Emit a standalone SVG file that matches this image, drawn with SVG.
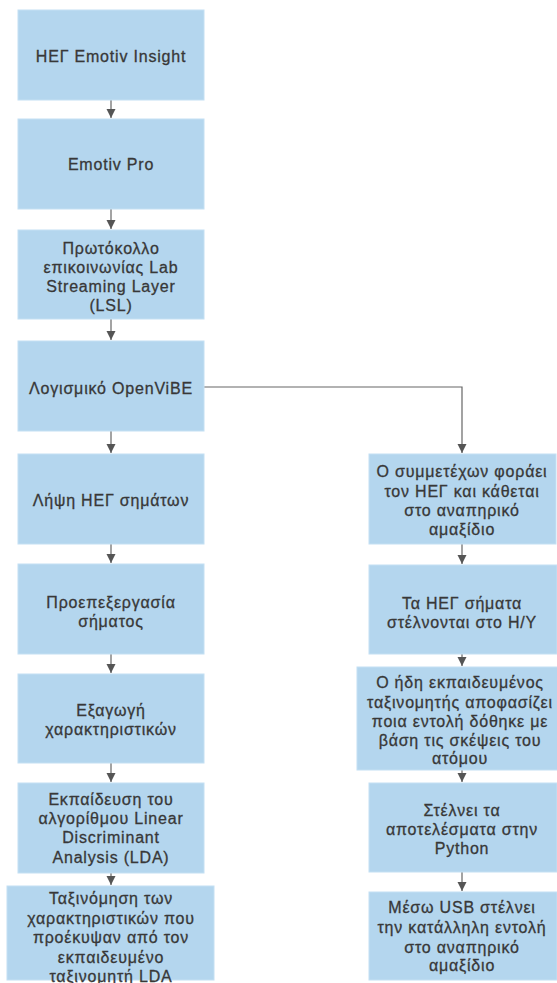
<svg xmlns="http://www.w3.org/2000/svg" width="557" height="983" viewBox="0 0 557 983">
<style>
.b{fill:#b4d6ee;stroke:#c4e0f3;stroke-width:1}
.t{font-family:"Liberation Sans",Arial,sans-serif;font-size:16px;letter-spacing:0.8px;fill:#383838;stroke:#383838;stroke-width:0.3px;text-anchor:middle}
.c{fill:none;stroke:#666;stroke-width:1.2}
</style>
<defs>
<marker id="ah" markerUnits="userSpaceOnUse" markerWidth="10" markerHeight="10" refX="9" refY="5" orient="auto">
<path d="M0,0.5 L9,5 L0,9.5 Z" fill="#555"/>
</marker>
</defs>
<rect width="557" height="983" fill="#fff"/>
<g id="connectors">
<path class="c" d="M111,100 V118" marker-end="url(#ah)"/>
<path class="c" d="M111,209 V229" marker-end="url(#ah)"/>
<path class="c" d="M111,319 V340" marker-end="url(#ah)"/>
<path class="c" d="M111,431 V453" marker-end="url(#ah)"/>
<path class="c" d="M111,544 V563" marker-end="url(#ah)"/>
<path class="c" d="M111,654 V673" marker-end="url(#ah)"/>
<path class="c" d="M111,763 V782" marker-end="url(#ah)"/>
<path class="c" d="M111,873 V885" marker-end="url(#ah)"/>
<path class="c" d="M203,387 H462 V453" marker-end="url(#ah)"/>
<path class="c" d="M462,544 V564" marker-end="url(#ah)"/>
<path class="c" d="M462,654 V666" marker-end="url(#ah)"/>
<path class="c" d="M462,770 V782" marker-end="url(#ah)"/>
<path class="c" d="M462,872 V891" marker-end="url(#ah)"/>
</g>
<g id="n1"><rect class="b" x="18" y="10" width="186" height="90"/><text class="t" x="111" y="62">ΗΕΓ Emotiv Insight</text></g>
<g id="n2"><rect class="b" x="18" y="119" width="186" height="90"/><text class="t" x="111" y="170">Emotiv Pro</text></g>
<g id="n3"><rect class="b" x="18" y="230" width="186" height="89"/><text class="t" x="111" y="254"><tspan x="111">Πρωτόκολλο</tspan><tspan x="111" dy="19">επικοινωνίας Lab</tspan><tspan x="111" dy="19">Streaming Layer</tspan><tspan x="111" dy="18.5">(LSL)</tspan></text></g>
<g id="n4"><rect class="b" x="18" y="341" width="186" height="90"/><text class="t" x="111" y="394">Λογισμικό OpenViBE</text></g>
<g id="n5"><rect class="b" x="18" y="454" width="186" height="90"/><text class="t" x="111" y="506">Λήψη ΗΕΓ σημάτων</text></g>
<g id="n6"><rect class="b" x="18" y="564" width="186" height="90"/><text class="t" x="111" y="608"><tspan x="111">Προεπεξεργασία</tspan><tspan x="111" dy="19">σήματος</tspan></text></g>
<g id="n7"><rect class="b" x="18" y="674" width="186" height="89"/><text class="t" x="111" y="716"><tspan x="111">Εξαγωγή</tspan><tspan x="111" dy="19">χαρακτηριστικών</tspan></text></g>
<g id="n8"><rect class="b" x="18" y="783" width="186" height="90"/><text class="t" x="111" y="805"><tspan x="111">Εκπαίδευση του</tspan><tspan x="111" dy="19">αλγορίθμου Linear</tspan><tspan x="111" dy="19">Discriminant</tspan><tspan x="111" dy="19.5">Analysis (LDA)</tspan></text></g>
<g id="n9"><rect class="b" x="7" y="886" width="207" height="94"/><text class="t" x="111" y="904"><tspan x="111">Ταξινόμηση των</tspan><tspan x="111" dy="19.5">χαρακτηριστικών που</tspan><tspan x="111" dy="19.5">προέκυψαν από τον</tspan><tspan x="111" dy="19.5">εκπαιδευμένο</tspan><tspan x="111" dy="19">ταξινομητή LDA</tspan></text></g>
<g id="r1"><rect class="b" x="369" y="454" width="187" height="90"/><text class="t" x="462" y="477"><tspan x="462">Ο συμμετέχων φοράει</tspan><tspan x="462" dy="19.5">τον ΗΕΓ και κάθεται</tspan><tspan x="462" dy="19">στο αναπηρικό</tspan><tspan x="462" dy="19.5">αμαξίδιο</tspan></text></g>
<g id="r2"><rect class="b" x="369" y="565" width="188" height="89"/><text class="t" x="462" y="609"><tspan x="462">Τα ΗΕΓ σήματα</tspan><tspan x="462" dy="18.5">στέλνονται στο Η/Υ</tspan></text></g>
<g id="r3"><rect class="b" x="357" y="667" width="210" height="103"/><text class="t" x="460" y="688"><tspan x="460">Ο ήδη εκπαιδευμένος</tspan><tspan x="460" dy="19.5">ταξινομητής αποφασίζει</tspan><tspan x="460" dy="19.5">ποια εντολή δόθηκε με</tspan><tspan x="460" dy="18.5">βάση τις σκέψεις του</tspan><tspan x="460" dy="18.5">ατόμου</tspan></text></g>
<g id="r4"><rect class="b" x="369" y="783" width="188" height="89"/><text class="t" x="462" y="816"><tspan x="462">Στέλνει τα</tspan><tspan x="462" dy="18.5">αποτελέσματα στην</tspan><tspan x="462" dy="19">Python</tspan></text></g>
<g id="r5"><rect class="b" x="369" y="892" width="188" height="88"/><text class="t" x="462" y="913"><tspan x="462">Μέσω USB στέλνει</tspan><tspan x="462" dy="20">την κατάλληλη εντολή</tspan><tspan x="462" dy="20">στο αναπηρικό</tspan><tspan x="462" dy="18">αμαξίδιο</tspan></text></g>
</svg>
